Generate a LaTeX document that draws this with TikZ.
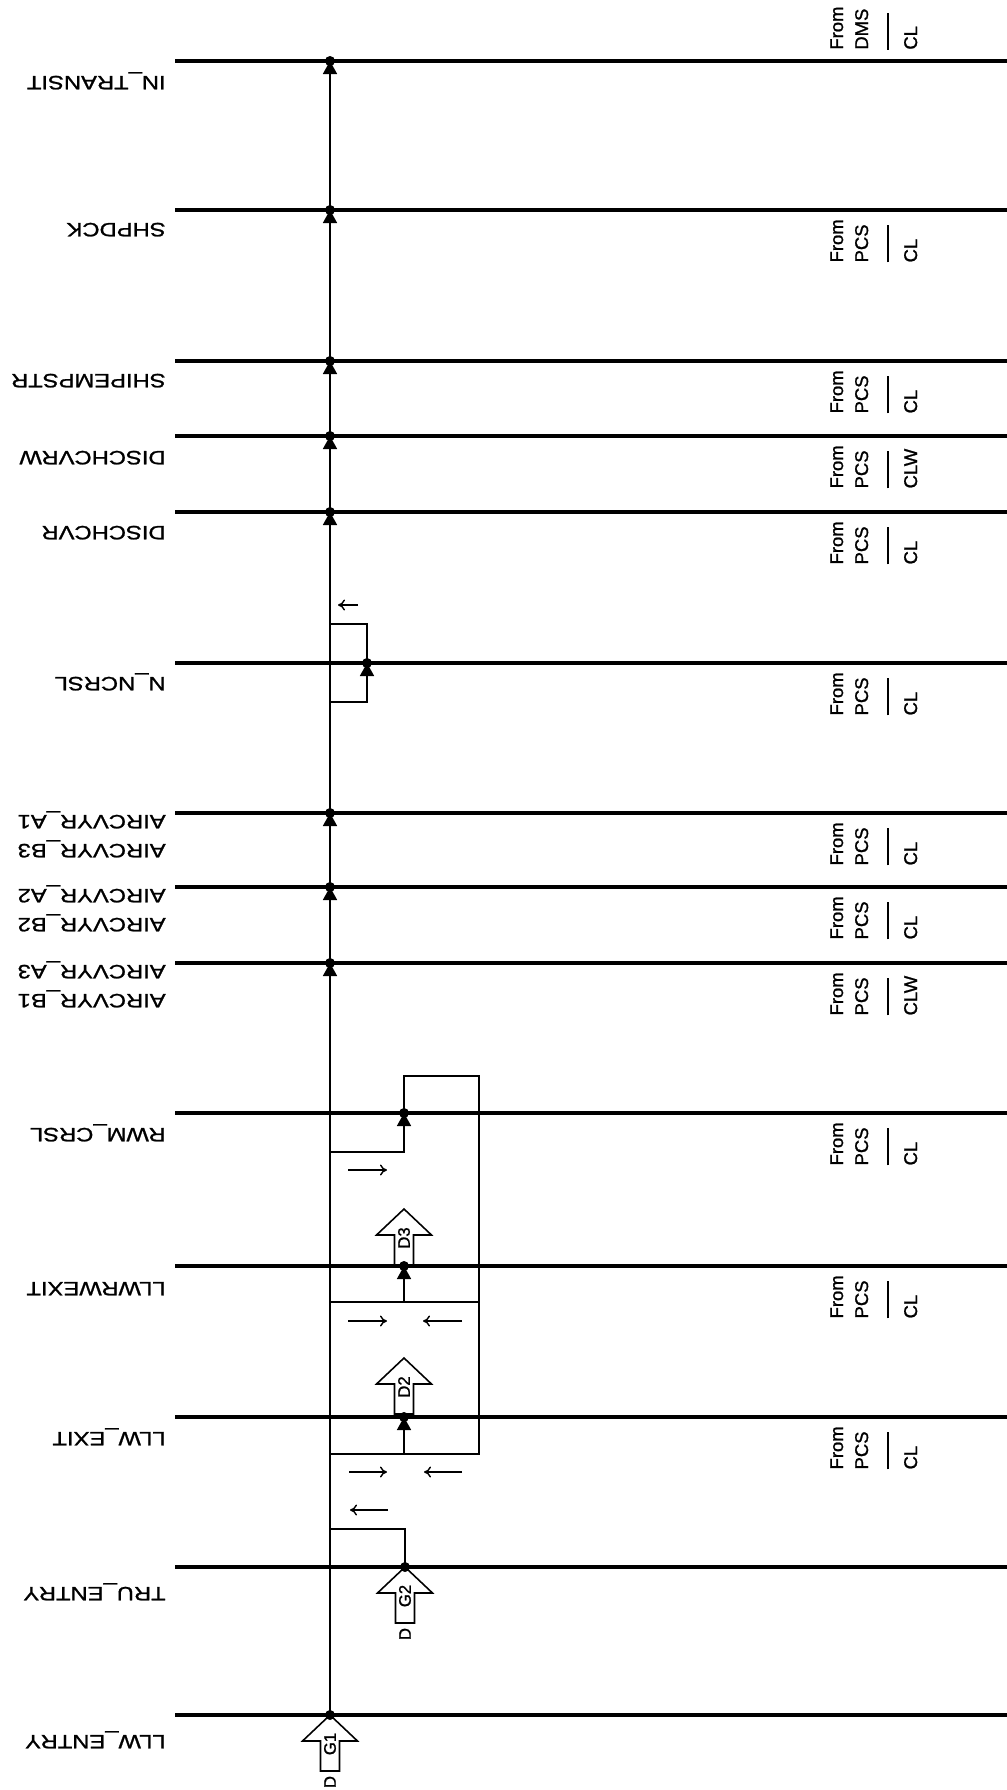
\documentclass[tikz,border=0pt]{standalone}
\usepackage{fontspec}
\newfontfamily\busfont[FakeStretch=1.23,FakeBold=1.2]{Liberation Sans}
\newfontfamily\srcfont[FakeBold=1.2]{Liberation Sans}
\usetikzlibrary{arrows.meta}

\begin{document}
\begin{tikzpicture}[x=.2mm,y=-.2mm,
    bus/.style={black, line width=1.8pt},
    flow/.style={black, line width=.9pt},
    tipup/.style={-{Triangle[width=2.8mm,length=2.6mm]}},
    move/.style={black, line width=.8pt, -{To[length=1.4mm,width=2.2mm]}},
    busname/.style={font=\busfont\fontsize{11}{16.5}\selectfont, rotate=180,
                    inner sep=0pt, align=left, anchor=base west},
    srcname/.style={font=\srcfont\fontsize{10.5}{14.2}\selectfont, rotate=90,
                    inner sep=0pt, align=left},
    blk/.style={black, line width=.9pt, fill=white, line join=miter},
    blkname/.style={font=\srcfont\fontsize{9.5}{11}\selectfont, rotate=90, inner sep=0pt}]
  \useasboundingbox (0,0) rectangle (1007,1790);

  % status lines
  \foreach \y/\n in {61/transit, 210/shpdck, 361/shipempstr, 436/dischcvrw,
                     512/dischcvr, 663/ncrsl, 813/airA1, 887/airA2, 963/airA3,
                     1113/rwmcrsl, 1266/llwrwexit, 1417/llwexit, 1567/truentry,
                     1715/llwentry}{
    \coordinate (W-\n) at (175,\y);
    \coordinate (E-\n) at (1007,\y);
    \coordinate (J-\n) at (330,\y);
    \draw [bus] (W-\n) -- (E-\n);
  }

  % names of the lines
  \foreach \n/\dy/\t in {transit/15/IN\_TRANSIT, shpdck/13/SHPDCK,
                         shipempstr/13/SHIPEMPSTR, dischcvrw/15/DISCHCVRW,
                         dischcvr/14/DISCHCVR, ncrsl/14/N\_NCRSL,
                         airA1/2/{AIRCVYR\_B3\\AIRCVYR\_A1},
                         airA2/2/{AIRCVYR\_B2\\AIRCVYR\_A2},
                         airA3/2/{AIRCVYR\_B1\\AIRCVYR\_A3},
                         rwmcrsl/15/RWM\_CRSL, llwrwexit/16/LLWRWEXIT,
                         llwexit/15/LLW\_EXIT, truentry/20/TRU\_ENTRY,
                         llwentry/20/LLW\_ENTRY}
    \path (W-\n) ++(-9,\dy) node [busname] (T-\n) {\t};

  % where the data comes from
  \path (E-transit) ++(-177,-11) node [srcname, anchor=north west] (S-transit)
    {From\\DMS\\[9.8pt]\rlap{\rule[16pt]{.74cm}{1pt}}CL};
  \foreach \n/\s/\d in {shpdck/PCS/CL, shipempstr/PCS/CL, dischcvrw/PCS/CLW,
                        dischcvr/PCS/CL, ncrsl/PCS/CL, airA1/PCS/CL, airA2/PCS/CL,
                        airA3/PCS/CLW, rwmcrsl/PCS/CL, llwrwexit/PCS/CL, llwexit/PCS/CL}
    \path (E-\n) ++(-177,9) node [srcname, anchor=north east] (S-\n)
      {From\\\s\\[9.8pt]\rlap{\rule[16pt]{.74cm}{1pt}}\d};

  % main path
  \foreach \a/\b in {llwentry/airA3, airA3/airA2, airA2/airA1, airA1/dischcvr,
                     dischcvr/dischcvrw, dischcvrw/shipempstr, shipempstr/shpdck,
                     shpdck/transit}
    \draw [flow, tipup] (J-\a) -- (J-\b);

  % side paths
  \coordinate (K-ncrsl) at (367,663);
  \coordinate (K-rwmcrsl) at (404,1113);
  \coordinate (K-llwrwexit) at (404,1266);
  \coordinate (K-llwexit) at (404,1417);
  \coordinate (K-truentry) at (405,1567);
  \coordinate (ncrsl-in) at (330,702);
  \coordinate (ncrsl-out) at (330,624);
  \coordinate (rwm-in) at (330,1152);
  \coordinate (rwm-top) at (479,1076);
  \coordinate (rwexit-in) at (330,1302);
  \coordinate (exit-in) at (330,1454);
  \coordinate (tru-out) at (330,1529);

  \draw [flow, tipup] (ncrsl-in) -| (K-ncrsl);
  \draw [flow] (K-ncrsl) |- (ncrsl-out);
  \draw [flow, tipup] (rwm-in) -| (K-rwmcrsl);
  \draw [flow] (K-rwmcrsl) |- (rwm-top) |- (exit-in);
  \draw [flow] (rwexit-in) -- (rwexit-in -| rwm-top);
  \draw [flow, tipup] (K-llwrwexit |- rwexit-in) -- (K-llwrwexit);
  \draw [flow, tipup] (K-llwexit |- exit-in) -- (K-llwexit);
  \draw [flow] (K-truentry) |- (tru-out);

  % block arrows
  \foreach \n/\x/\y in {D3/404/1209, D2/404/1358, G2/405/1567, G1/330/1715}{
    \draw [blk] (\x,\y) -- ++(27.5,26) -- ++(-18,0) -- ++(0,30) -- ++(-19,0)
      -- ++(0,-30) -- ++(-18,0) -- cycle;
    \node [blkname] (B-\n) at (\x,\y+29) {\n};
  }
  \foreach \n/\x/\y in {G2/405/1567, G1/330/1715}
    \node [blkname] (D-\n) at (\x,\y+67) {D};

  \foreach \c in {J-transit, J-shpdck, J-shipempstr, J-dischcvrw, J-dischcvr,
                  J-airA1, J-airA2, J-airA3, J-llwentry, K-ncrsl, K-rwmcrsl,
                  K-llwrwexit, K-llwexit, K-truentry}
    \fill (\c) circle (1mm);

  % directions
  \foreach \x/\y/\l in {358/605/-20, 348/1170/39, 348/1321/39, 462/1321/-39,
                        349/1472/38, 462/1472/-38, 388/1510/-38}
    \draw [move] (\x,\y) -- ++(\l,0);
\end{tikzpicture}
\end{document}
